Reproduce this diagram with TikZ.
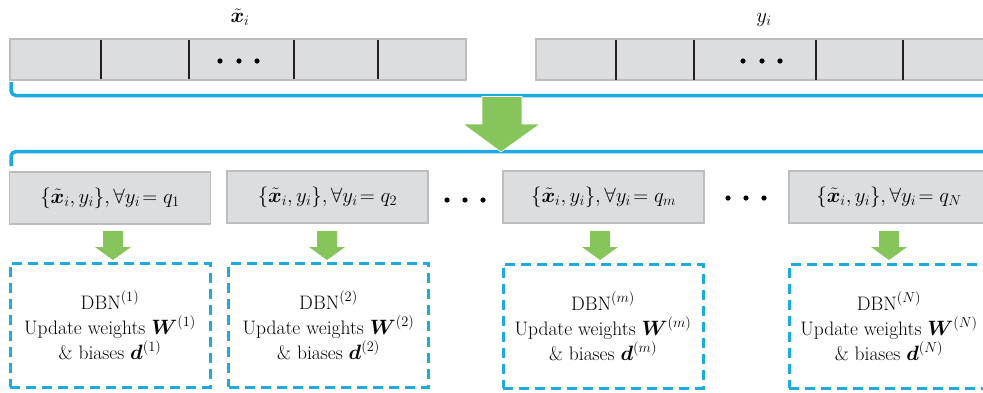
\documentclass[tikz,border=0pt]{standalone}
\usepackage{fontspec}
\usepackage{amsmath,bm}
\definecolor{barfill}{HTML}{DCDDDF}
\definecolor{barline}{HTML}{BCBDBF}
\definecolor{divcol}{HTML}{231F20}
\definecolor{blueln}{HTML}{1DA9E1}
\definecolor{greenar}{HTML}{86C55B}
\newcommand{\setx}[1]{$\{\tilde{\boldsymbol{x}}_i, y_i\}, \forall y_i\!= q_{#1}$}
\newcommand{\dbn}[1]{DBN$^{(#1)}$\\Update weights $\boldsymbol{W}^{(#1)}$\\\& biases $\boldsymbol{d}^{(#1)}$}
\begin{document}
\begin{tikzpicture}[x=1pt,y=-1pt,
  bar/.style={draw=barline,fill=barfill,line width=1.2pt,minimum height=41pt,inner sep=0pt},
  divider/.style={draw=divcol,line width=2.2pt},
  dotc/.style={fill=black},
  bluebr/.style={draw=blueln,line width=3.5pt,rounded corners=5pt},
  gbox/.style={draw=barline,fill=barfill,line width=1.2pt,minimum height=52pt,inner sep=0pt,font=\fontsize{19.5}{24}\selectfont},
  dbox/.style={draw=blueln,line width=3pt,dash pattern=on 10pt off 6pt,minimum height=124pt,inner sep=0pt,align=center,font=\fontsize{19.5}{25}\selectfont},
  bigarrow/.style={fill=greenar,draw=white,line width=0.6pt},
  smallarrow/.style={fill=greenar},
  lbl/.style={font=\fontsize{19.5}{24}\selectfont,inner sep=0pt}
]
\useasboundingbox (0,0) rectangle (983,392);
\clip (0,0) rectangle (983,392);
\fill[white] (0,0) rectangle (983,392);

% top labels
\node[lbl] (xl) at (240,17) {$\tilde{\boldsymbol{x}}_i$};
\node[lbl] (yl) at (764,20) {$y_i$};

% top bars
\node[bar,minimum width=456pt] (xbar) at (238,59.5) {};
\node[bar,minimum width=460pt] (ybar) at (766,59.5) {};
\foreach \x in {101,189,294,378}{\draw[divider] (\x,39.5) -- (\x,78.5);}
\foreach \x in {616,694,816,903}{\draw[divider] (\x,39.5) -- (\x,79.5);}
\foreach \x in {220,239,257}{\fill[dotc] (\x,61) circle (2.6);}
\foreach \x in {743,762,780}{\fill[dotc] (\x,61) circle (2.6);}

% blue brackets
\coordinate (b1s) at (11,82);
\coordinate (b1e) at (990,95.5);
\coordinate (b2s) at (11,166);
\coordinate (b2e) at (990,151.5);
\draw[bluebr] (b1s) |- (b1e);
\draw[bluebr] (b2s) |- (b2e);

% big arrow
\draw[bigarrow] (482,96.5) -- (522,96.5) -- (522,124) -- (540,124) -- (501,152) -- (463,124) -- (482,124) -- cycle;

% second row gray boxes
\node[gbox,minimum width=201pt] (g1) at (110,198) {\setx{1}};
\node[gbox,minimum width=201pt] (g2) at (327.5,197) {\setx{2}};
\node[gbox,minimum width=201pt] (g3) at (603.5,197) {\setx{m}};
\node[gbox,minimum width=200pt] (g4) at (889,197) {\setx{N}};
\foreach \x in {447,465,483}{\fill[dotc] (\x,200) circle (2.6);}
\foreach \x in {728,746,764}{\fill[dotc] (\x,198) circle (2.6);}

% small arrows
\foreach \c in {113,327,600,889}{
  \fill[smallarrow] (\c-10,231) -- (\c+10,231) -- (\c+10,247) -- (\c+18,247) -- (\c,260) -- (\c-18,247) -- (\c-10,247) -- cycle;
}

% dashed boxes
\node[dbox,minimum width=200pt] (d1) at (110,325) {\dbn{1}};
\node[dbox,minimum width=200pt] (d2) at (328.5,325) {\dbn{2}};
\node[dbox,minimum width=200pt] (d3) at (603,326) {\dbn{m}};
\node[dbox,minimum width=200pt] (d4) at (889,326) {\dbn{N}};
\end{tikzpicture}
\end{document}
